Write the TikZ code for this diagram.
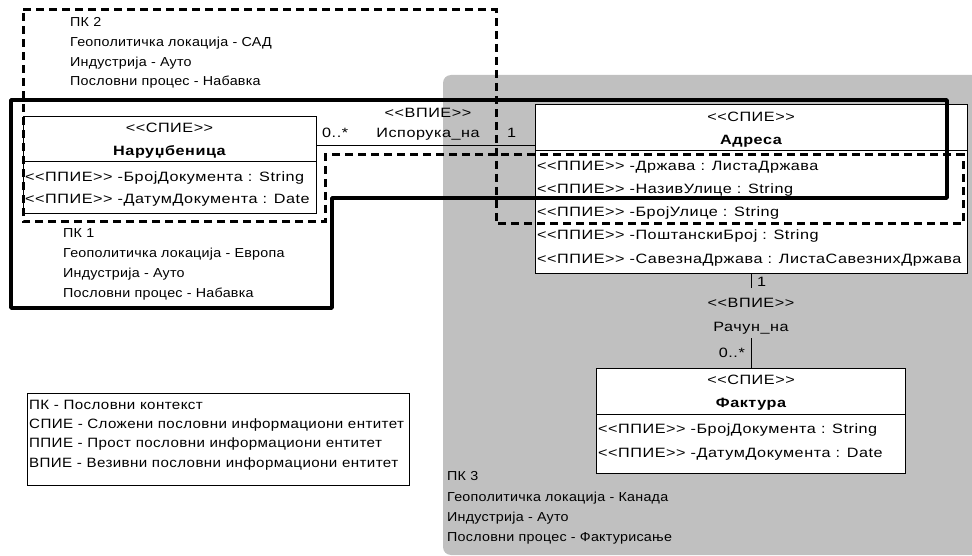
\documentclass[tikz,border=0pt]{standalone}
\usepackage{fontspec}
\setmainfont{Liberation Sans}[Ligatures=TeXOff,FakeStretch=1.2,LetterSpace=4]
\newfontfamily\ctxfam{Liberation Sans}[Ligatures=TeXOff,FakeStretch=1.1,LetterSpace=2]
\newfontfamily\legfam{Liberation Sans}[Ligatures=TeXOff,FakeStretch=1.12,LetterSpace=3]
\usetikzlibrary{calc}
\definecolor{ctxgray}{RGB}{192,192,192}
\newcommand\dgfont{\fontsize{13.5}{20}\selectfont}
\tikzset{
  every node/.style={font=\dgfont},
  lbl/.style={inner sep=0pt, anchor=base west},
  clbl/.style={inner sep=0pt, anchor=base},
  rlbl/.style={inner sep=0pt, anchor=base east},
  ctxlbl/.style={lbl, font=\ctxfam\fontsize{13}{20}\selectfont},
  leglbl/.style={lbl, font=\legfam\fontsize{13.5}{20}\selectfont},
  umlbox/.style={draw=black, line width=1pt, fill=white, anchor=north west, inner sep=0pt},
  divider/.style={line width=1pt},
  assoc/.style={line width=1pt},
  ctxsolid/.style={line width=3.5pt, line join=round},
  ctxdash/.style={line width=3pt, dash pattern=on 8pt off 5pt},
  legendbox/.style={draw=black, line width=1pt, anchor=north west, inner sep=0pt},
}
\begin{document}
\begin{tikzpicture}[x=1pt,y=-1pt]
\useasboundingbox (0,0) rectangle (972,556);

% grey area of business context 3
\begin{scope}
  \clip (0,0) rectangle (972,556);
  \fill[ctxgray, rounded corners=8pt] (443,75) rectangle (1000,555);
\end{scope}

% ---- class Наруџбеница
\node[umlbox, minimum width=293pt, minimum height=97pt] (nar) at (23,116) {};
\draw[divider] (nar.west |- 0,162) -- (nar.east |- 0,162);
\node[clbl] (narst) at (169.5,132.5) {<<СПИЕ>>};
\node[clbl, font=\dgfont\bfseries] (narname) at (169.5,155.5) {Наруџбеница};
\node[lbl] (nara1) at (25,181.5) {<<ППИЕ>> -БројДокумента : String};
\node[lbl] (nara2) at (25,204) {<<ППИЕ>> -ДатумДокумента : Date};

% ---- class Адреса
\node[umlbox, minimum width=432pt, minimum height=169pt] (adr) at (535,104) {};
\draw[divider] (adr.west |- 0,151) -- (adr.east |- 0,151);
\node[clbl] (adrst) at (751,121.5) {<<СПИЕ>>};
\node[clbl, font=\dgfont\bfseries] (adrname) at (751,144.5) {Адреса};
\node[lbl] (adra1) at (537,171) {<<ППИЕ>> -Држава : ЛистаДржава};
\node[lbl] (adra2) at (537,194) {<<ППИЕ>> -НазивУлице : String};
\node[lbl] (adra3) at (537,217) {<<ППИЕ>> -БројУлице : String};
\node[lbl] (adra4) at (537,240) {<<ППИЕ>> -ПоштанскиБрој : String};
\node[lbl] (adra5) at (537,263) {<<ППИЕ>> -СавезнаДржава : ЛистаСавезнихДржава};

% ---- class Фактура
\node[umlbox, minimum width=309pt, minimum height=105pt] (fak) at (596,368) {};
\draw[divider] (fak.west |- 0,414) -- (fak.east |- 0,414);
\node[clbl] (fakst) at (751,384.5) {<<СПИЕ>>};
\node[clbl, font=\dgfont\bfseries] (fakname) at (751,407.5) {Фактура};
\node[lbl] (faka1) at (598,433.5) {<<ППИЕ>> -БројДокумента : String};
\node[lbl] (faka2) at (598,457.5) {<<ППИЕ>> -ДатумДокумента : Date};

% ---- association Испорука_на
\coordinate (isp) at (nar.east |- 0,146);
\draw[assoc] (isp) -- (isp -| adr.west);
\node[lbl] (ispm1) at (322,137.5) {0..*};
\node[clbl] (ispst) at (428,117.5) {<<ВПИЕ>>};
\node[clbl] (ispname) at (428,137.5) {Испорука\_на};
\node[lbl] (ispm2) at (507,137.5) {1};

% ---- association Рачун_на
\coordinate (rtop) at (adr.south |- 0,288);
\coordinate (rbot) at (adr.south |- 0,338);
\draw[assoc] (adr.south) -- (rtop);
\draw[assoc] (rbot) -- (rbot |- fak.north);
\node[lbl] (racm1) at (757,286.5) {1};
\node[clbl] (racst) at (751,307.5) {<<ВПИЕ>>};
\node[clbl] (racname) at (751,331.5) {Рачун\_на};
\node[rlbl] (racm2) at (745,357.5) {0..*};

% ---- business context 2 (dashed outline)
\draw[ctxdash] (23,10) -- (496,10) -- (496,224) -- (963,224) -- (963,155)
  -- (325,155) -- (325,222) -- (23,222) -- cycle;
\node[ctxlbl] (pk2a) at (70,26.5) {ПК 2};
\node[ctxlbl] (pk2b) at (70,46.5) {Геополитичка локација - САД};
\node[ctxlbl] (pk2c) at (70,66.5) {Индустрија - Ауто};
\node[ctxlbl] (pk2d) at (70,86) {Пословни процес - Набавка};

% ---- business context 1 (thick outline)
\draw[ctxsolid] (11,100) -- (947,100) -- (947,198) -- (332,198) -- (332,308)
  -- (11,308) -- cycle;
\node[ctxlbl] (pk1a) at (63,237.5) {ПК 1};
\node[ctxlbl] (pk1b) at (63,257.5) {Геополитичка локација - Европа};
\node[ctxlbl] (pk1c) at (63,277.5) {Индустрија - Ауто};
\node[ctxlbl] (pk1d) at (63,297) {Пословни процес - Набавка};

% ---- business context 3 (grey area)
\node[ctxlbl] (pk3a) at (447,480.5) {ПК 3};
\node[ctxlbl] (pk3b) at (447,501) {Геополитичка локација - Канада};
\node[ctxlbl] (pk3c) at (447,521) {Индустрија - Ауто};
\node[ctxlbl] (pk3d) at (447,541) {Пословни процес - Фактурисање};

% ---- legend
\node[legendbox, minimum width=382pt, minimum height=92pt] (legend) at (27,393) {};
\node[leglbl] (lega) at (29,409.5) {ПК - Пословни контекст};
\node[leglbl] (legb) at (29,428.5) {СПИЕ - Сложени пословни информациони ентитет};
\node[leglbl] (legc) at (29,447.5) {ППИЕ - Прост пословни информациони ентитет};
\node[leglbl] (legd) at (29,467.5) {ВПИЕ - Везивни пословни информациони ентитет};
\end{tikzpicture}
\end{document}
